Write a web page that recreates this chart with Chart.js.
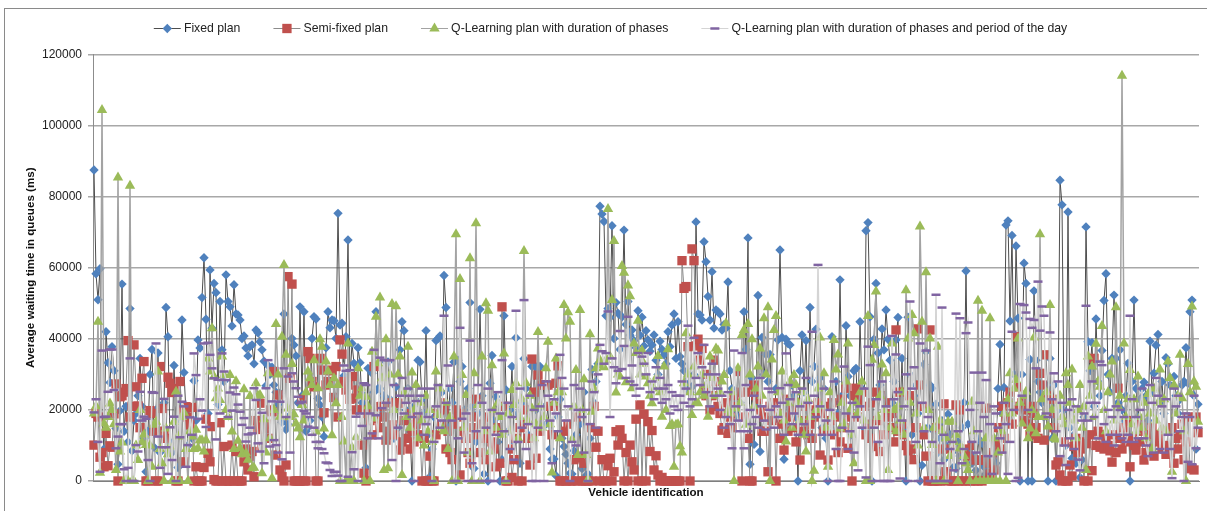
<!DOCTYPE html>
<html>
<head>
<meta charset="utf-8">
<title>Average waiting time in queues</title>
<script src="https://cdn.jsdelivr.net/npm/chart.js@4/dist/chart.umd.js"></script>
<style>
  html, body { margin: 0; padding: 0; background: #fff; overflow: hidden; }
  #wrap { position: relative; width: 1207px; height: 511px; }
  #frame { position: absolute; left: 4px; top: 8px; right: 0; bottom: 0; border-left: 1px solid #8a8a8a; border-top: 1px solid #8a8a8a; }
  #chart { position: absolute; left: 0; top: 0; }
</style>
</head>
<body>
<div id="wrap">
  <div id="frame"></div>
  <canvas id="chart" width="1207" height="511"></canvas>
</div>
<script>
// values, in ms, one vehicle per entry (25 per row)
const fixedPlan = [
  87500,58300,51000,59700,18000,9000,42000,33300,27700,37800,31000,14800,4700,19800,55400,14000,21000,11000,48500,8500,17000,19000,24000,34500,21000,
  12000,2600,14000,30000,37000,9500,20000,36000,8000,14000,22000,48800,40600,11000,8000,32500,17000,3800,21000,45300,30500,19000,10000,18000,12000,
  28200,17000,39700,37400,51600,62800,45500,19000,59400,43000,55600,53000,21500,50500,36900,28000,58000,50500,49000,43600,55200,47000,46700,45300,40100,
  40800,37400,35200,37800,38300,33000,42500,41700,39200,36900,33700,26800,32500,30000,32000,27000,25000,21500,24700,16500,47000,14500,16000,18500,40100,
  38300,35200,22000,49000,24000,47600,14000,15000,17000,40100,46200,45600,23200,21400,18000,12500,37500,47600,43100,45300,45100,40100,75300,43900,44400,
  29600,40600,67800,29000,38700,33100,20000,37500,33300,22000,24000,3700,31700,18000,30300,25000,47600,26000,26000,19000,24000,33500,33500,23000,22000,
  12000,26500,15000,36900,44800,42300,20000,26000,14000,0,21000,16000,34000,33500,23000,19000,42300,13000,1200,9000,18000,39500,40100,40800,25000,
  57800,48800,15000,26000,22000,33500,0,34000,28000,32200,20000,15000,26000,50200,21000,3500,11000,19000,48300,24000,2000,13000,0,27500,35300,
  17000,23700,11000,0,6000,46500,25600,14000,20000,32200,11000,40300,19000,5000,22000,34400,26000,13000,24000,32200,32700,20000,31500,32200,21000,
  27000,16000,21000,9000,6100,6200,1500,18000,23000,12000,9700,7500,5000,2200,2000,8500,13000,6500,16000,3500,25000,1500,2000,12000,31400,
  22000,28000,33000,77300,75100,73000,46500,48500,46000,71800,40100,50200,47200,37000,46200,70600,44000,50500,41000,42500,39500,37500,47900,41000,46100,
  38000,42300,39700,36500,38300,41100,34000,30000,39300,37000,35500,33000,42000,37800,43900,47000,34500,44800,35000,33000,31000,27500,26000,25000,26500,
  30000,72900,47000,46700,45300,67300,61700,51900,45300,58900,43000,48100,47600,47000,42500,44000,43000,56000,31000,26000,23000,20000,18000,22000,25000,
  47600,37000,68400,4700,29000,10300,21000,52200,8300,40400,30000,35600,28000,35600,22000,17000,26000,39700,65000,40400,6100,39900,38700,38300,27000,
  24000,18000,0,31000,41100,25000,39500,20000,48800,28000,32200,42700,22000,29000,15000,26000,12000,0,17000,40600,22000,28000,19000,56600,24000,
  19000,43700,29400,24000,13000,31000,31700,18000,44800,26000,15000,70400,72700,46200,0,39900,55600,36000,27000,42800,36900,48100,39900,34000,22000,
  28000,39700,46000,18000,34500,15000,0,46100,30000,13000,24000,27000,19000,0,4400,32800,36400,15000,27000,26100,14000,21600,8000,12000,17000,
  6000,10000,18800,13000,8000,4000,3500,11000,7000,15000,22000,59100,16000,9000,5000,7000,3000,12000,6000,10600,4000,2000,8000,6000,3000,
  9000,5000,26000,38400,19000,26300,72000,73200,45000,69100,30000,66100,45800,0,30000,61300,55600,0,34200,0,53500,34000,28000,25000,22000,
  18000,27000,0,34500,12000,27000,0,20000,84600,77700,20000,10000,75700,15000,6400,13000,5000,9000,1000,6000,18000,71500,39200,31000,38900,
  21000,45600,28000,24000,36700,50800,58300,30000,25000,34500,52300,34500,22000,36900,20000,17000,24000,33100,0,28000,50900,26000,18000,23000,26000,
  27800,24000,17000,39300,25000,30300,38200,41200,22000,28000,19000,34700,33000,27000,14000,29400,24000,19000,23000,27000,28000,37500,27500,47600,50900,
  24000,9000,21600
];
const semiFixedPlan = [
  10100,19000,18000,6700,8000,4000,13400,4300,9900,9500,18900,27300,0,23700,24000,25000,26000,39500,18000,21000,38300,26500,21100,15000,28900,
  33600,0,0,19800,19000,14000,0,0,32200,20400,14000,12000,29200,27500,24900,26000,0,0,28000,20000,5400,20900,18000,15800,20700,
  0,4000,0,0,0,3800,17400,7800,5400,15300,400,0,0,16400,0,9700,0,0,0,10100,0,8300,0,0,0,
  5400,9000,3100,7000,8300,1200,17000,14500,21900,9700,14800,16000,12000,20000,19500,30800,7300,24200,3100,1200,0,4500,57500,28900,55400,
  0,0,0,0,23000,0,0,36400,34500,28000,26500,0,0,34500,31200,19200,27000,28000,31000,31200,23500,32200,18000,39700,35700,
  28000,25600,27000,23000,23300,29400,20000,25600,20000,10100,2200,0,19000,17000,13000,32200,17600,20900,15000,21000,18000,11500,14000,22000,15800,
  13000,22000,21900,8700,11000,17000,12000,19000,9000,14000,11000,16000,18000,13000,0,12000,0,0,7000,0,0,13000,19000,22000,16000,
  20000,9000,14000,8000,6000,16000,20000,18000,1700,19000,14000,12000,8000,5000,15000,18000,23000,13000,8000,16000,12000,6000,18000,14000,11000,
  9000,4000,15000,5000,49000,21000,0,0,9000,1000,6000,12000,0,15000,0,16000,20000,12000,4500,34300,25000,6400,29800,14000,27000,
  27000,27000,27000,21000,13000,21000,27500,32400,0,0,14000,0,16000,0,0,6000,18000,0,6500,0,5000,0,0,15000,0,
  21000,9500,14000,0,6000,0,0,4300,6400,0,2600,13900,10100,14400,12000,0,8000,0,10100,5400,3100,17400,0,21400,0,
  18800,0,16700,8300,14200,3100,7100,1700,0,1000,0,0,0,0,0,0,0,0,0,62000,54200,54700,37800,0,65300,
  62000,38000,39900,34000,37300,26100,24000,30000,20000,24000,34000,28000,21000,19000,14300,15000,22000,13400,18000,15000,24000,21000,30800,25000,0,
  18000,25000,12000,0,0,27000,24000,23000,20000,14000,18000,14000,2600,21000,17000,22000,0,19000,12000,16000,8700,23000,14000,18000,20000,
  15000,11000,22000,5900,17000,14000,21000,13000,16000,12000,18000,20000,22000,7300,19000,14000,21000,5900,17000,22000,13000,18000,8000,11000,23000,
  15000,26100,9200,18000,0,24000,26100,23000,18000,25000,21000,13000,16000,12000,22000,9700,25000,17000,8300,24000,13000,22000,18000,15000,19000,
  11000,42500,14000,25000,16000,13000,10000,8500,24000,9000,6000,15000,42800,27000,21000,13000,7000,0,42500,0,0,15000,0,0,9000,
  21700,2600,0,9000,0,0,21400,0,20000,0,9000,0,7000,0,10000,0,5900,0,5800,0,6000,20500,5000,2000,8000,
  3100,11000,15000,9000,21000,12000,18000,22000,25000,16000,20000,40600,26500,21000,22000,17000,20000,16000,13000,21000,19000,15000,12000,30300,27000,
  11500,35500,24000,19000,23000,15000,4500,5400,1700,0,11000,0,0,4500,1400,9700,12000,8000,11000,9000,0,10500,0,13000,2900,
  34500,10000,14000,9500,13000,9000,12000,10000,8500,5300,13000,8000,26100,12000,9000,15000,11000,17000,4000,12000,10000,8700,14000,16000,11000,
  5900,8000,13000,9000,15000,7000,11000,13000,12000,9000,10000,7500,14000,8000,15000,5000,12000,9000,13000,16000,6000,11000,18000,3500,3500,
  3100,18000,13600
];
const qLearningPhases = [
  19000,21000,44800,2300,104400,16200,15000,18000,21800,20000,16000,3100,85400,8300,10800,0,0,0,83100,0,0,10000,5900,20000,11000,
  13100,10100,0,10000,4000,15800,16700,30800,9000,5000,0,14800,7500,9700,0,16700,25100,12500,0,18000,19200,9000,0,14000,12500,
  9000,14400,9200,11500,11500,8300,11500,34500,30800,43000,29400,23300,26000,22800,35000,29800,20000,18000,29800,13900,9000,28100,11300,9200,7500,
  25800,7800,6000,23900,3600,3700,27500,24000,24200,2200,17400,8000,30300,12000,800,20000,44200,30000,18100,40600,60800,35500,20400,18000,32900,
  18800,16200,14800,12300,21400,17000,25000,30800,28900,27000,34000,13900,26100,39900,37800,14800,33600,30800,27000,12900,28900,21900,27000,0,18000,
  11100,0,38700,0,9400,0,12300,31700,24000,26100,0,23700,21000,0,36400,17600,46200,33100,51600,28900,3100,39900,3600,30000,49800,
  20000,49200,30000,35000,1700,25000,18000,37800,15000,30500,20000,27000,12000,22000,17000,10000,24000,14000,20000,11000,0,30800,18600,26000,15000,
  14000,22000,9000,18000,0,35000,69400,0,56800,29800,15000,24200,8000,62700,0,30300,72500,21400,0,35000,14000,50000,47900,8300,32600,
  20000,15000,22000,18000,13000,35900,0,19000,14000,25600,21400,27500,12000,18000,23000,64700,27500,17000,24000,20400,12000,16000,41900,21000,15000,
  18000,31700,39200,16000,2400,22000,34500,25000,12000,25000,49500,40100,47500,44800,11700,21000,31200,7300,48100,20000,28600,7300,500,41300,19500,
  26000,31700,37300,34000,32600,32000,34000,76500,35000,50900,67500,24900,30000,29400,60500,58600,27800,55000,52000,26100,38700,36000,45100,30000,36700,
  33000,29400,27500,24000,21900,26000,29000,35200,25000,18100,32200,20000,37100,15500,16000,4000,15800,16000,9800,8000,27500,41600,30000,25000,18600,
  32200,22000,21900,25000,30000,24000,27000,18100,35000,29000,24000,37300,36700,25000,28000,29800,44400,20000,19000,25000,0,20400,31700,22000,41100,
  42500,15800,44200,30000,39900,21000,26000,32200,37300,24000,45800,30000,48900,0,34200,42500,46400,25000,19000,30800,17000,11100,22000,28000,15000,
  29800,27000,22000,17000,25000,13000,8300,23000,18000,0,2900,20000,26000,40400,21000,30300,15000,4000,25000,18000,39700,31400,35600,14800,22000,
  16000,28000,38700,20000,13000,5000,22000,19000,25000,28000,17000,0,46400,0,34100,38300,53300,18000,24000,32800,20000,30300,3100,15000,38700,
  20000,14000,21000,17000,25000,13000,53700,40100,22000,46700,41600,19000,10000,71600,44800,15000,58700,20000,40100,10100,15000,0,37800,17000,14000,
  0,12000,16700,7000,16700,11000,13000,0,9200,9200,7000,5000,3100,0,22300,14000,0,50700,0,47900,0,12000,0,45800,0,
  12000,0,8000,0,14000,19000,0,23000,30300,19000,26000,28400,40100,22000,16200,24000,25100,12000,14800,20000,40400,13400,18000,69400,23000,
  18000,25000,15300,49500,20000,12000,11700,21000,24000,18000,16000,30300,27000,22000,31400,17000,12000,20000,27000,15000,21000,3100,35000,24000,32200,
  18000,38600,28000,26500,43600,20000,14000,25000,30000,33600,17000,48900,21000,24000,114000,38700,18000,23000,31200,16000,23000,14000,29400,18000,15000,
  22000,12000,24500,19000,9000,26000,17000,22000,31400,15000,23000,14000,33600,29000,2600,27000,19000,24000,35500,23300,14000,0,32900,25000,49100,
  28000,26500,16700
];
const qLearningPhasesPeriod = [
  19300,23000,11000,2600,36700,18000,18100,25100,37000,37000,25600,9200,12500,16000,16000,3300,0,3700,34500,0,0,10100,8300,25100,17000,
  18100,17500,5900,0,25000,24800,38700,12500,3700,9500,23100,9500,2000,15100,5900,18100,0,24000,12300,22300,21000,4000,10100,17900,13000,
  35900,29800,17500,23000,19800,38700,15200,38900,35500,31700,28900,11700,28500,19000,35900,30800,28400,18000,24900,19800,26300,24400,21500,19500,15800,
  17700,11100,13100,15000,13400,26100,22800,10600,8300,19200,5000,26100,34000,9700,22400,11500,10100,8000,22300,6100,31700,18000,29400,8000,30300,
  28000,26100,23700,21900,22300,19700,19000,15300,18000,13000,15000,11000,9200,11000,9000,7800,5200,5000,3100,1400,2500,2600,1500,0,0,
  32500,31000,1200,31200,8100,3300,18100,0,19000,15500,27500,27000,12000,19000,13400,36900,18500,12000,34700,20500,34000,22000,34000,34000,5900,
  27000,0,15000,24000,29000,19000,22000,26000,24000,18000,0,22500,19000,24000,26000,13000,16000,18000,26000,0,11000,21000,27000,15000,17000,
  46500,22000,32500,26800,17000,0,0,12000,43100,17500,8000,19000,0,39500,5000,0,14000,27000,0,22000,0,15000,26000,0,20000,
  0,13000,25000,19000,34000,14000,0,22000,9000,18000,6000,47900,11000,26000,15000,50900,9000,16000,24000,0,20000,0,15000,21000,27000,
  0,28000,24000,17000,5000,23000,19000,14000,35500,29000,26000,17000,21000,0,11000,27000,10000,20000,26000,18000,8000,20000,0,16000,28000,
  25000,15000,30000,38300,36500,33000,36000,47700,18000,34500,32000,27500,31000,42200,31500,38000,29000,46200,28000,32500,27000,24000,36000,26000,35000,
  33000,30000,36000,25000,28000,23000,32000,26000,29000,22000,26000,23000,27000,19000,25000,21000,24000,20000,24000,28000,22000,26000,43700,21000,23000,
  40300,29000,36000,27000,32000,38300,25000,30000,21000,33000,24000,30000,26000,20000,24000,15000,18000,25000,16000,9200,36700,21000,17000,14000,36000,
  9200,27000,14000,20000,16000,24000,18000,15000,29000,21000,17000,14500,26000,20000,25000,15000,21000,18000,26100,22000,13000,35900,27000,23000,16000,
  19000,25000,13000,21000,26000,16000,29000,22000,13000,42000,24000,18000,60800,21000,13000,26000,17000,0,20000,13000,28000,9000,0,0,15000,
  32200,19000,9000,14000,22000,8000,18000,3000,21000,15000,26000,1000,37800,32600,0,15000,23000,11000,0,28000,0,21000,0,0,40800,
  23000,35600,25000,700,17000,21000,30000,0,50500,26000,32000,11000,0,38700,22000,14000,36700,18000,0,11000,0,52400,0,5000,48800,
  13000,0,0,9000,11000,3000,47100,14000,45800,5000,9000,41600,44600,20000,11000,30500,8000,14000,22000,30500,18000,28400,7000,16000,2000,
  21000,19000,15000,12000,8000,22000,16000,2000,11000,42000,20000,0,900,49800,24000,49500,47400,20000,45600,43100,45300,31700,56100,42300,49100,
  46500,19000,18000,41800,23000,30300,14000,28000,7000,22000,10000,4500,20000,12000,23000,9000,21000,6000,3000,17000,19000,49300,17000,22000,28000,
  18000,22000,12000,33600,32600,16000,11000,20000,13000,18000,10000,21000,13000,20000,12000,18000,11000,13000,46500,23000,11000,18000,12000,20000,26000,
  12000,10000,7000,27000,22000,8000,29000,24000,9000,21000,8000,23000,13000,9000,800,26000,21000,24000,14000,18000,0,19000,5400,18000,4700,
  24000,9200,15000
];
const vehicleIds = fixedPlan.map((v, i) => i + 1);
const seriesNames = [
  'Fixed plan',
  'Semi-fixed plan',
  'Q-Learning plan with duration of phases',
  'Q-Learning plan with duration of phases and period of the day'
];

const fontName = '"Liberation Sans", Arial, sans-serif';

function series(name, values, lineColor, lineWidth, markerColor, style, radius, drawOrder) {
    return {
        label: name,
        data: values,
        borderColor: lineColor,
        borderWidth: lineWidth,
        backgroundColor: markerColor,
        pointBackgroundColor: markerColor,
        pointBorderColor: style === 'line' ? markerColor : 'rgba(0,0,0,0)',
        pointBorderWidth: style === 'line' ? 2.5 : 0,
        pointStyle: style,
        pointRadius: radius,
        tension: 0,
        clip: false,
        order: drawOrder
    };
}

// excel style legend keys: a grey line with the marker on it
const legendKeys = {
    id: 'legendKeys',
    afterInit(chart) {
        const fit = chart.legend.fit;
        chart.legend.fit = function () {
            fit.call(this);
            this.height = 65.5;
        };
    },
    afterDraw(chart) {
        const ctx = chart.ctx;
        chart.legend.legendHitBoxes.forEach(function (box, i) {
            const ds = chart.data.datasets[i];
            const y = 28;
            ctx.save();
            ctx.strokeStyle = ds.borderColor;
            ctx.lineWidth = 1;
            ctx.beginPath();
            ctx.moveTo(box.left, y + 0.5);
            ctx.lineTo(box.left + 27, y + 0.5);
            ctx.stroke();
            ctx.fillStyle = ds.pointBackgroundColor;
            ctx.strokeStyle = ds.pointBorderColor;
            ctx.lineWidth = ds.pointBorderWidth;
            Chart.helpers.drawPoint(ctx, { pointStyle: ds.pointStyle, radius: ds.pointRadius, rotation: 0, borderWidth: ds.pointBorderWidth }, box.left + 13.5, y + 0.5);
            ctx.restore();
        });
    }
};

new Chart(document.getElementById('chart'), {
    type: 'line',
    data: {
        labels: vehicleIds,
        datasets: [
            series(seriesNames[0], fixedPlan, '#4d4d4d', 1, '#4f81bd', 'rectRot', 4.7, 4),
            series(seriesNames[1], semiFixedPlan, '#8c8c8c', 1, '#c0504d', 'rect', 6.6, 3),
            series(seriesNames[2], qLearningPhases, '#a3a3a3', 1.5, '#9bbb59', 'triangle', 6, 2),
            series(seriesNames[3], qLearningPhasesPeriod, '#d4d4d4', 1.5, '#8064a2', 'line', 4.5, 1)
        ]
    },
    options: {
        responsive: false,
        animation: false,
        layout: { padding: { left: 22, right: 8, top: -11, bottom: 0 } },
        plugins: {
            tooltip: { enabled: false },
            legend: {
                position: 'top',
                labels: {
                    boxWidth: 24,
                    boxHeight: 12,
                    padding: 33,
                    color: '#222',
                    font: { family: fontName, size: 12.25 },
                    sort: (a, b) => a.datasetIndex - b.datasetIndex,
                    generateLabels(chart) {
                        const items = Chart.defaults.plugins.legend.labels.generateLabels(chart);
                        items.forEach(function (item) {
                            item.fillStyle = 'rgba(0,0,0,0)';
                            item.strokeStyle = 'rgba(0,0,0,0)';
                            item.lineWidth = 0;
                        });
                        return items;
                    }
                }
            }
        },
        scales: {
            x: {
                type: 'category',
                offset: true,
                afterFit(scale) { scale.height = 30; },
                ticks: { display: false },
                grid: { display: false },
                border: { color: '#7f7f7f' },
                title: {
                    display: true,
                    text: 'Vehicle identification',
                    color: '#111',
                    font: { family: fontName, size: 11.6, weight: 'bold' },
                    padding: { top: 0, bottom: 11 }
                }
            },
            y: {
                min: 0,
                max: 120000,
                afterFit(scale) { scale.width = 71; },
                ticks: {
                    stepSize: 20000,
                    padding: 6,
                    color: '#222',
                    font: { family: fontName, size: 12 },
                    callback: (value) => String(value)
                },
                grid: { color: '#a8a8a8', lineWidth: 1.5, tickLength: 5 },
                border: { color: '#8c8c8c' },
                title: {
                    display: true,
                    text: 'Average waiting time in queues (ms)',
                    color: '#111',
                    font: { family: fontName, size: 11.6, weight: 'bold' },
                    padding: { top: 2, bottom: 0 }
                }
            }
        }
    },
    plugins: [legendKeys]
});
</script>
</body>
</html>
